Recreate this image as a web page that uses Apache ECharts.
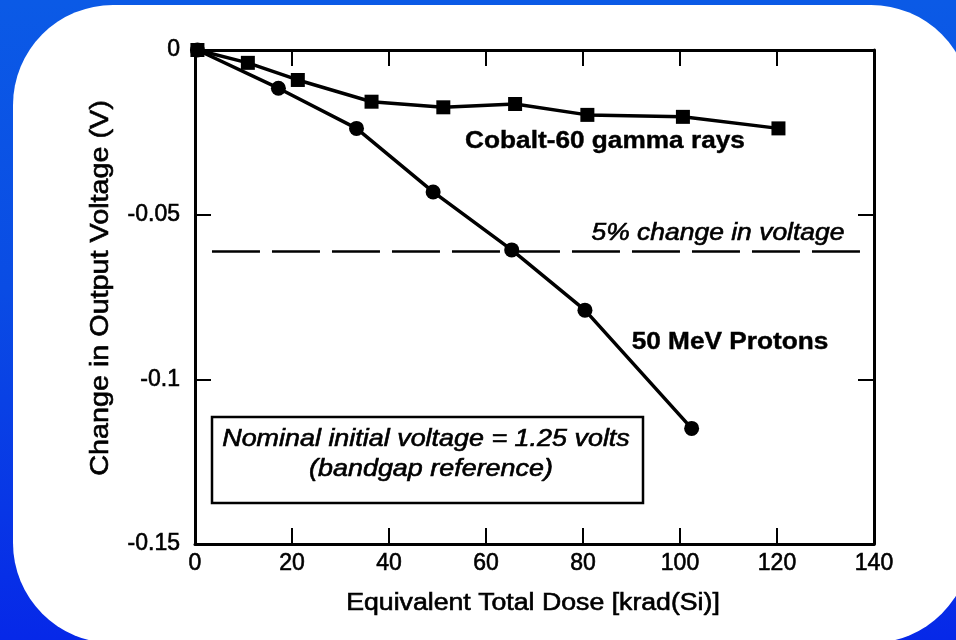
<!DOCTYPE html>
<html>
<head>
<meta charset="utf-8">
<title>Output voltage shift vs total dose</title>
<script src="https://cdn.jsdelivr.net/npm/echarts@6/dist/echarts.min.js"></script>
<style>
  html, body { margin: 0; padding: 0; width: 956px; height: 640px; overflow: hidden; }
  body {
    position: relative;
    background: linear-gradient(180deg, #0b5ae6 0%, #0a4ce4 45%, #0836e6 80%, #0628e8 100%);
  }
  #panel {
    position: absolute; left: 13px; top: 5px; width: 958px; height: 638px;
    background: #ffffff; border-radius: 100px;
  }
  #chart { position: absolute; left: 0; top: 0; width: 956px; height: 640px; }
</style>
</head>
<body>
<div id="panel"></div>
<div id="chart"></div>
<script>
// Equivalent total dose, krad(Si)
const cobaltDose = [0.5, 10.9, 21.2, 36.4, 51.2, 66, 80.9, 100.6, 120.3];
const cobaltShift = [0, -0.0039, -0.0091, -0.0157, -0.0174, -0.0164, -0.0197, -0.0203, -0.0238];

const protonDose = [0.5, 17.2, 33.3, 49.1, 65.3, 80.4, 102.4];
const protonShift = [0, -0.0116, -0.0238, -0.0431, -0.0607, -0.079, -0.1149];

// 5% change in the 1.25 V reference
const thresholdShift = -0.061;
const thresholdSpan = [3.5, 139];

const doseRange = [0, 140, 20];
const shiftRange = [-0.15, 0, 0.05];

const seriesNames = ['Cobalt-60 gamma rays', '50 MeV Protons'];
const thresholdText = '5% change in voltage';
const noteLines = ['Nominal initial voltage = 1.25 volts', '(bandgap reference)'];
const xTitle = 'Equivalent Total Dose [krad(Si)]';
const yTitle = 'Change in Output Voltage (V)';

const FONT = '"Liberation Sans", Arial, Helvetica, sans-serif';
const INK = '#000000';

const pair = (xs, ys) => xs.map((x, i) => [x, ys[i]]);

function stretchedText(x, y, text, size, opts) {
  opts = opts || {};
  return {
    type: 'text',
    x: x, y: y,
    scaleX: opts.scaleX || 1,
    rotation: opts.rotation || 0,
    z: 100,
    style: {
      x: 0, y: 0,
      text: text,
      fill: INK,
      stroke: INK,
      lineWidth: opts.weight === 'bold' ? 0.4 : 0.6,
      font: (opts.style || 'normal') + ' ' + (opts.weight || 'normal') + ' ' + size + 'px ' + FONT,
      textAlign: 'center',
      textVerticalAlign: 'middle'
    }
  };
}

const chart = echarts.init(document.getElementById('chart'), null, { renderer: 'canvas' });

const axisLine = { show: true, onZero: false, lineStyle: { color: INK, width: 3 } };
const insideTicks = { show: true, inside: true, length: 16, lineStyle: { color: INK, width: 2 } };
const tickLabel = {
  color: INK, fontSize: 23, fontFamily: FONT,
  textBorderColor: INK, textBorderWidth: 0.6
};

chart.setOption({
  backgroundColor: 'transparent',
  animation: false,
  grid: { left: 195, right: 82, top: 50, bottom: 96, containLabel: false },
  xAxis: [
    {
      type: 'value', position: 'bottom',
      min: doseRange[0], max: doseRange[1], interval: doseRange[2],
      axisLine: axisLine, axisTick: insideTicks,
      axisLabel: Object.assign({ margin: 8 }, tickLabel),
      splitLine: { show: false }
    },
    {
      type: 'value', position: 'top',
      min: doseRange[0], max: doseRange[1], interval: doseRange[2],
      axisLine: axisLine, axisTick: insideTicks,
      axisLabel: { show: false }, splitLine: { show: false }
    }
  ],
  yAxis: [
    {
      type: 'value', position: 'left',
      min: shiftRange[0], max: shiftRange[1], interval: shiftRange[2],
      axisLine: axisLine, axisTick: insideTicks,
      axisLabel: Object.assign({ margin: 15 }, tickLabel),
      splitLine: { show: false }
    },
    {
      type: 'value', position: 'right',
      min: shiftRange[0], max: shiftRange[1], interval: shiftRange[2],
      axisLine: axisLine, axisTick: insideTicks,
      axisLabel: { show: false }, splitLine: { show: false }
    }
  ],
  series: [
    {
      name: seriesNames[0],
      type: 'line',
      data: pair(cobaltDose, cobaltShift),
      symbol: 'rect', symbolSize: 14,
      itemStyle: { color: INK },
      lineStyle: { color: INK, width: 3.5 },
      z: 5,
      markLine: {
        silent: true, symbol: 'none',
        lineStyle: { color: INK, width: 2.5, type: [48, 12] },
        label: { show: false },
        data: [[
          { coord: [thresholdSpan[0], thresholdShift] },
          { coord: [thresholdSpan[1], thresholdShift] }
        ]]
      }
    },
    {
      name: seriesNames[1],
      type: 'line',
      data: pair(protonDose, protonShift),
      symbol: 'circle', symbolSize: 15,
      itemStyle: { color: INK },
      lineStyle: { color: INK, width: 3.5 },
      z: 6
    }
  ],
  graphic: [
    // note box
    {
      type: 'rect', z: 90,
      shape: { x: 212, y: 417, width: 431, height: 86 },
      style: { fill: '#ffffff', stroke: INK, lineWidth: 2.5 }
    },
    stretchedText(426, 440, noteLines[0], 23, { style: 'italic', scaleX: 1.17 }),
    stretchedText(431, 470, noteLines[1], 23, { style: 'italic', scaleX: 1.17 }),
    // series captions
    stretchedText(605, 142, seriesNames[0], 23, { weight: 'bold', scaleX: 1.14 }),
    stretchedText(730, 343, seriesNames[1], 23, { weight: 'bold', scaleX: 1.14 }),
    stretchedText(718, 234, thresholdText, 23, { style: 'italic', scaleX: 1.15 }),
    // axis titles
    stretchedText(533, 604, xTitle, 23, { scaleX: 1.16 }),
    stretchedText(101, 288, yTitle, 25, { rotation: Math.PI / 2, scaleX: 1.15 })
  ]
});
</script>
</body>
</html>
